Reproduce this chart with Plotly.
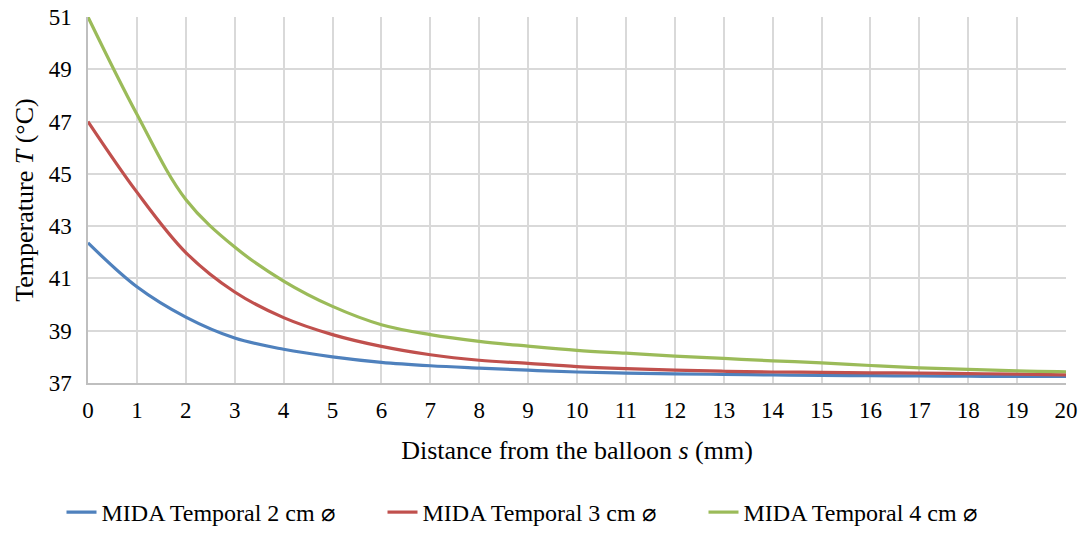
import plotly.graph_objects as go

s_mm = list(range(0, 21))
t_2cm = [42.36, 40.68, 39.52, 38.72, 38.29, 38.00, 37.79, 37.66, 37.57, 37.49, 37.42,
         37.38, 37.35, 37.33, 37.31, 37.29, 37.28, 37.27, 37.26, 37.25, 37.25]
t_3cm = [47.00, 44.30, 41.99, 40.48, 39.50, 38.85, 38.40, 38.08, 37.87, 37.75, 37.63,
         37.55, 37.49, 37.45, 37.42, 37.41, 37.39, 37.38, 37.36, 37.34, 37.31]
t_4cm = [51.00, 47.28, 44.02, 42.20, 40.90, 39.93, 39.23, 38.85, 38.59, 38.41, 38.25,
         38.14, 38.03, 37.94, 37.85, 37.77, 37.67, 37.58, 37.52, 37.46, 37.43]

names = ["MIDA Temporal 2 cm ⌀", "MIDA Temporal 3 cm ⌀", "MIDA Temporal 4 cm ⌀"]
colors = ["#4F81BD", "#C0504D", "#9BBB59"]

fig = go.Figure()
for name, ys, c in zip(names, [t_2cm, t_3cm, t_4cm], colors):
    fig.add_trace(go.Scatter(x=s_mm, y=ys, mode="lines", name=name,
                             line=dict(color=c, width=3.2, shape="spline", smoothing=1.0)))

font = "Liberation Serif, Times New Roman, serif"
fig.update_layout(
    width=1086, height=535,
    margin=dict(l=88, r=20, t=17, b=152, autoexpand=False),
    paper_bgcolor="white", plot_bgcolor="white",
    font=dict(family=font, size=23, color="#000000"),
    showlegend=True,
    legend=dict(orientation="h", xref="container", yref="container",
                x=0.5, xanchor="center", y=-0.01, yanchor="bottom",
                font=dict(family=font, size=24), entrywidth=276, entrywidthmode="pixels"),
    xaxis=dict(range=[0, 20], dtick=1, tick0=0, showgrid=True, gridcolor="#D9D9D9", gridwidth=1.5,
               showline=True, linecolor="#BFBFBF", linewidth=1.5, zeroline=False, ticks="",
               ticklabelstandoff=6, tickfont=dict(family=font, size=23),
               title=dict(text="Distance from the balloon <i>s</i> (mm)", font=dict(family=font, size=26), standoff=18)),
    yaxis=dict(range=[37, 51], dtick=2, tick0=37, showgrid=True, gridcolor="#D9D9D9", gridwidth=1.5,
               showline=True, linecolor="#BFBFBF", linewidth=1.5, zeroline=False, ticks="",
               ticklabelstandoff=10, tickfont=dict(family=font, size=23),
               title=dict(text="Temperature <i>T</i> (°C)", font=dict(family=font, size=26), standoff=8)),
)

fig.write_html("out.html")
